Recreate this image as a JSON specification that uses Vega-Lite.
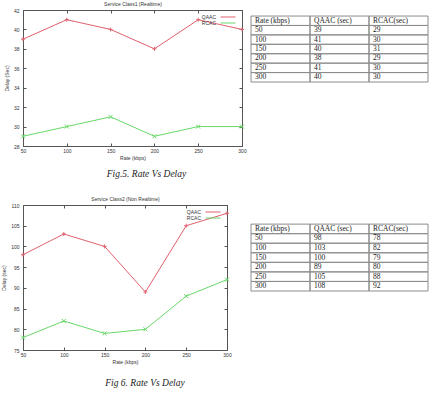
{
  "$schema": "https://vega.github.io/schema/vega-lite/v6.json",
  "background": "white",
  "padding": {"left": 1, "top": 1, "right": 0, "bottom": 0},
  "spacing": 17,
  "resolve": {"scale": {"color": "independent"}, "legend": {"color": "independent"}},
  "config": {
    "font": "Liberation Sans",
    "view": {"stroke": "#555555", "strokeWidth": 1},
    "axis": {
      "domain": false,
      "grid": false,
      "tickColor": "#555555",
      "tickSize": -3,
      "labelFont": "Liberation Sans",
      "labelFontSize": 5,
      "labelColor": "#333333",
      "titleFont": "Liberation Sans",
      "titleFontSize": 5,
      "titleFontWeight": "normal",
      "titleColor": "#333333"
    },
    "legend": {
      "orient": "top-right",
      "title": null,
      "labelFont": "Liberation Sans",
      "labelFontSize": 5,
      "labelColor": "#333333",
      "labelAlign": "right",
      "labelOffset": -5,
      "symbolType": "M1,0H7",
      "symbolSize": 25,
      "symbolStrokeWidth": 1,
      "rowPadding": 0,
      "offset": 4,
      "padding": 0
    }
  },
  "datasets": {
    "class1": [
      {"rate": 50, "qaac": 39, "rcac": 29},
      {"rate": 100, "qaac": 41, "rcac": 30},
      {"rate": 150, "qaac": 40, "rcac": 31},
      {"rate": 200, "qaac": 38, "rcac": 29},
      {"rate": 250, "qaac": 41, "rcac": 30},
      {"rate": 300, "qaac": 40, "rcac": 30}
    ],
    "class2": [
      {"rate": 50, "qaac": 98, "rcac": 78},
      {"rate": 100, "qaac": 103, "rcac": 82},
      {"rate": 150, "qaac": 100, "rcac": 79},
      {"rate": 200, "qaac": 89, "rcac": 80},
      {"rate": 250, "qaac": 105, "rcac": 88},
      {"rate": 300, "qaac": 108, "rcac": 92}
    ],
    "header": [
      {"col": "rate", "label": "Rate (kbps)"},
      {"col": "qaac", "label": "QAAC (sec)"},
      {"col": "rcac", "label": "RCAC(sec)"}
    ]
  },
  "vconcat": [
    {
      "resolve": {"scale": {"color": "independent"}, "legend": {"color": "independent"}},
      "hconcat": [
        {
          "width": 219,
          "height": 136,
          "data": {"name": "class1"},
          "transform": [{"fold": ["qaac", "rcac"], "as": ["series", "delay"]}],
          "title": {"text": "Fig.5. Rate Vs Delay", "orient": "bottom", "frame": "group", "font": "Liberation Serif", "fontStyle": "italic", "fontWeight": "normal", "fontSize": 9.5, "color": "#222222", "dx": 14, "offset": 9},
          "layer": [
            {
              "mark": {"type": "line", "strokeWidth": 1},
              "encoding": {
                "x": {"field": "rate", "type": "quantitative", "scale": {"domain": [50, 300], "nice": false, "zero": false},
                      "axis": {"orient": "bottom", "values": [50, 100, 150, 200, 250, 300], "labelFlush": false, "title": "Rate (kbps)", "labelPadding": 5, "titlePadding": 2}},
                "y": {"field": "delay", "type": "quantitative", "scale": {"domain": [28, 42], "nice": false, "zero": false},
                      "axis": {"orient": "left", "values": [28, 30, 32, 34, 36, 38, 40, 42], "title": "Delay (Sec)", "labelPadding": 7, "titlePadding": 4}},
                "color": {"field": "series", "type": "nominal", "scale": {"domain": ["qaac", "rcac"], "range": ["#e0606e", "#6ad86a"]},
                          "legend": {"labelExpr": "upper(datum.label)"}}
              }
            },
            {
              "transform": [{"filter": "datum.series === 'qaac'"}],
              "mark": {"type": "point", "shape": "M-1,0H1M0,-1V1", "filled": false, "size": 16, "strokeWidth": 1, "opacity": 1},
              "encoding": {
                "x": {"field": "rate", "type": "quantitative",
                      "axis": {"orient": "top", "values": [50, 100, 150, 200, 250, 300], "labels": false, "title": "Service Class1 (Realtime)", "titlePadding": 3}},
                "y": {"field": "delay", "type": "quantitative",
                      "axis": {"orient": "right", "values": [28, 30, 32, 34, 36, 38, 40, 42], "labels": false, "title": null}},
                "color": {"field": "series", "type": "nominal", "legend": null}
              }
            },
            {
              "transform": [{"filter": "datum.series === 'rcac'"}],
              "mark": {"type": "point", "shape": "M-1,-1L1,1M-1,1L1,-1", "filled": false, "size": 16, "strokeWidth": 1, "opacity": 1},
              "encoding": {
                "x": {"field": "rate", "type": "quantitative", "axis": null},
                "y": {"field": "delay", "type": "quantitative", "axis": null},
                "color": {"field": "series", "type": "nominal", "legend": null}
              }
            }
          ],
          "resolve": {"axis": {"x": "independent", "y": "independent"}}
        },
        {
          "width": 177,
          "height": 72,
          "view": {"stroke": null},
          "layer": [
            {
              "data": {"name": "header"},
              "mark": {"type": "rect", "filled": false, "color": "#8c8c8c", "strokeWidth": 1},
              "encoding": {
                "x": {"field": "col", "type": "nominal", "scale": {"domain": ["rate", "qaac", "rcac"], "paddingInner": 0, "paddingOuter": 0}, "axis": null},
                "y": {"datum": "Rate (kbps)", "type": "ordinal", "scale": {"domain": ["Rate (kbps)", 50, 100, 150, 200, 250, 300], "paddingInner": 0, "paddingOuter": 0.32, "align": 1}, "axis": null}
              }
            },
            {
              "data": {"name": "header"},
              "mark": {"type": "text", "align": "left", "dx": 4, "font": "Liberation Serif", "fontSize": 7.5, "fill": "#222222"},
              "encoding": {
                "x": {"field": "col", "type": "nominal", "bandPosition": 0, "axis": null},
                "y": {"datum": "Rate (kbps)", "type": "ordinal", "axis": null},
                "text": {"field": "label"}
              }
            },
            {
              "data": {"name": "class1"},
              "transform": [{"fold": ["rate", "qaac", "rcac"], "as": ["col", "val"]}],
              "mark": {"type": "rect", "filled": false, "color": "#8c8c8c", "strokeWidth": 1},
              "encoding": {
                "x": {"field": "col", "type": "nominal", "axis": null},
                "y": {"field": "rate", "type": "ordinal", "axis": null}
              }
            },
            {
              "data": {"name": "class1"},
              "transform": [{"fold": ["rate", "qaac", "rcac"], "as": ["col", "val"]}],
              "mark": {"type": "text", "align": "left", "dx": 4, "font": "Liberation Serif", "fontSize": 7.5, "fill": "#222222"},
              "encoding": {
                "x": {"field": "col", "type": "nominal", "bandPosition": 0, "axis": null},
                "y": {"field": "rate", "type": "ordinal", "axis": null},
                "text": {"field": "val"}
              }
            }
          ]
        }
      ],
      "spacing": 3
    },
    {
      "resolve": {"scale": {"color": "independent"}, "legend": {"color": "independent"}},
      "hconcat": [
        {
          "width": 204,
          "height": 145,
          "data": {"name": "class2"},
          "transform": [{"fold": ["qaac", "rcac"], "as": ["series", "delay"]}],
          "title": {"text": "Fig 6. Rate Vs Delay", "orient": "bottom", "frame": "group", "font": "Liberation Serif", "fontStyle": "italic", "fontWeight": "normal", "fontSize": 9.5, "color": "#222222", "dx": 20, "offset": 14},
          "layer": [
            {
              "mark": {"type": "line", "strokeWidth": 1},
              "encoding": {
                "x": {"field": "rate", "type": "quantitative", "scale": {"domain": [50, 300], "nice": false, "zero": false},
                      "axis": {"orient": "bottom", "values": [50, 100, 150, 200, 250, 300], "labelFlush": false, "title": "Rate (kbps)", "labelPadding": 5, "titlePadding": 2}},
                "y": {"field": "delay", "type": "quantitative", "scale": {"domain": [75, 110], "nice": false, "zero": false},
                      "axis": {"orient": "left", "values": [75, 80, 85, 90, 95, 100, 105, 110], "title": "Delay (sec)", "labelPadding": 7, "titlePadding": 4}},
                "color": {"field": "series", "type": "nominal", "scale": {"domain": ["qaac", "rcac"], "range": ["#e0606e", "#6ad86a"]},
                          "legend": {"labelExpr": "upper(datum.label)"}}
              }
            },
            {
              "transform": [{"filter": "datum.series === 'qaac'"}],
              "mark": {"type": "point", "shape": "M-1,0H1M0,-1V1", "filled": false, "size": 16, "strokeWidth": 1, "opacity": 1},
              "encoding": {
                "x": {"field": "rate", "type": "quantitative",
                      "axis": {"orient": "top", "values": [50, 100, 150, 200, 250, 300], "labels": false, "title": "Service Class2 (Non Realtime)", "titlePadding": 3}},
                "y": {"field": "delay", "type": "quantitative",
                      "axis": {"orient": "right", "values": [75, 80, 85, 90, 95, 100, 105, 110], "labels": false, "title": null}},
                "color": {"field": "series", "type": "nominal", "legend": null}
              }
            },
            {
              "transform": [{"filter": "datum.series === 'rcac'"}],
              "mark": {"type": "point", "shape": "M-1,-1L1,1M-1,1L1,-1", "filled": false, "size": 16, "strokeWidth": 1, "opacity": 1},
              "encoding": {
                "x": {"field": "rate", "type": "quantitative", "axis": null},
                "y": {"field": "delay", "type": "quantitative", "axis": null},
                "color": {"field": "series", "type": "nominal", "legend": null}
              }
            }
          ],
          "resolve": {"axis": {"x": "independent", "y": "independent"}}
        },
        {
          "width": 177,
          "height": 86,
          "view": {"stroke": null},
          "layer": [
            {
              "data": {"name": "header"},
              "mark": {"type": "rect", "filled": false, "color": "#8c8c8c", "strokeWidth": 1},
              "encoding": {
                "x": {"field": "col", "type": "nominal", "scale": {"domain": ["rate", "qaac", "rcac"], "paddingInner": 0, "paddingOuter": 0}, "axis": null},
                "y": {"datum": "Rate (kbps)", "type": "ordinal", "scale": {"domain": ["Rate (kbps)", 50, 100, 150, 200, 250, 300], "paddingInner": 0, "paddingOuter": 1.06, "align": 1}, "axis": null}
              }
            },
            {
              "data": {"name": "header"},
              "mark": {"type": "text", "align": "left", "dx": 4, "font": "Liberation Serif", "fontSize": 7.5, "fill": "#222222"},
              "encoding": {
                "x": {"field": "col", "type": "nominal", "bandPosition": 0, "axis": null},
                "y": {"datum": "Rate (kbps)", "type": "ordinal", "axis": null},
                "text": {"field": "label"}
              }
            },
            {
              "data": {"name": "class2"},
              "transform": [{"fold": ["rate", "qaac", "rcac"], "as": ["col", "val"]}],
              "mark": {"type": "rect", "filled": false, "color": "#8c8c8c", "strokeWidth": 1},
              "encoding": {
                "x": {"field": "col", "type": "nominal", "axis": null},
                "y": {"field": "rate", "type": "ordinal", "axis": null}
              }
            },
            {
              "data": {"name": "class2"},
              "transform": [{"fold": ["rate", "qaac", "rcac"], "as": ["col", "val"]}],
              "mark": {"type": "text", "align": "left", "dx": 4, "font": "Liberation Serif", "fontSize": 7.5, "fill": "#222222"},
              "encoding": {
                "x": {"field": "col", "type": "nominal", "bandPosition": 0, "axis": null},
                "y": {"field": "rate", "type": "ordinal", "axis": null},
                "text": {"field": "val"}
              }
            }
          ]
        }
      ],
      "spacing": 18
    }
  ]
}
